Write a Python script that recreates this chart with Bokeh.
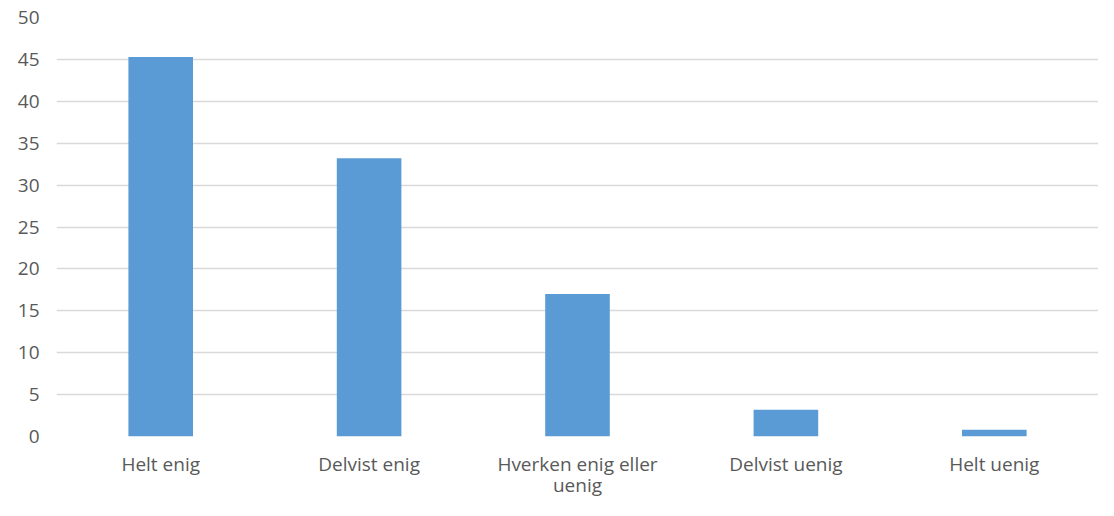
from bokeh.plotting import figure
from bokeh.models import Range1d, SingleIntervalTicker, LinearAxis, FixedTicker
from bokeh.embed import file_html
from bokeh.resources import INLINE

categories = ["Helt enig", "Delvist enig", "Hverken enig eller uenig", "Delvist uenig", "Helt uenig"]
values = [45.3, 33.2, 17.0, 3.2, 0.8]
# how each category label is wrapped on the x axis (first line, second line)
line1 = ["Helt enig", "Delvist enig", "Hverken enig eller", "Delvist uenig", "Helt uenig"]
line2 = ["", "", "uenig", "", ""]

FONT = "Open Sans"
SIZE = "19px"
COLOR = "#595959"
NBSP = "\u00a0"

n = len(categories)
pos = list(range(n))  # category slot index on the x scale

p = figure(width=1098, height=500, x_range=Range1d(-0.5, n - 0.5),
           y_range=Range1d(0, 50), output_backend="svg", toolbar_location=None,
           x_axis_location=None,
           min_border_left=56, min_border_right=0, min_border_top=17, min_border_bottom=63)
p.vbar(x=pos, top=values, width=0.31, fill_color="#5B9BD5", line_color=None)

ax1 = LinearAxis(ticker=FixedTicker(ticks=pos),
                 major_label_overrides={float(i): t for i, t in zip(pos, line1)})
ax2 = LinearAxis(ticker=FixedTicker(ticks=pos),
                 major_label_overrides={float(i): (t if t else NBSP) for i, t in zip(pos, line2)})
p.add_layout(ax1, "below")
p.add_layout(ax2, "below")

p.outline_line_color = None
p.xgrid.grid_line_color = None
p.ygrid.grid_line_color = "#D9D9D9"
p.ygrid.grid_line_width = 1.5
p.yaxis.ticker = SingleIntervalTicker(interval=5)

for ax in (ax1, ax2, p.yaxis[0]):
    ax.axis_line_color = None
    ax.major_tick_line_color = None
    ax.minor_tick_line_color = None
    ax.major_tick_out = 0
    ax.major_label_text_color = COLOR
    ax.major_label_text_font = FONT
    ax.major_label_text_font_size = SIZE
p.yaxis.major_label_standoff = 13
ax1.major_label_standoff = 14
ax2.major_label_standoff = -8

open("out.html", "w").write(file_html(p, INLINE))
